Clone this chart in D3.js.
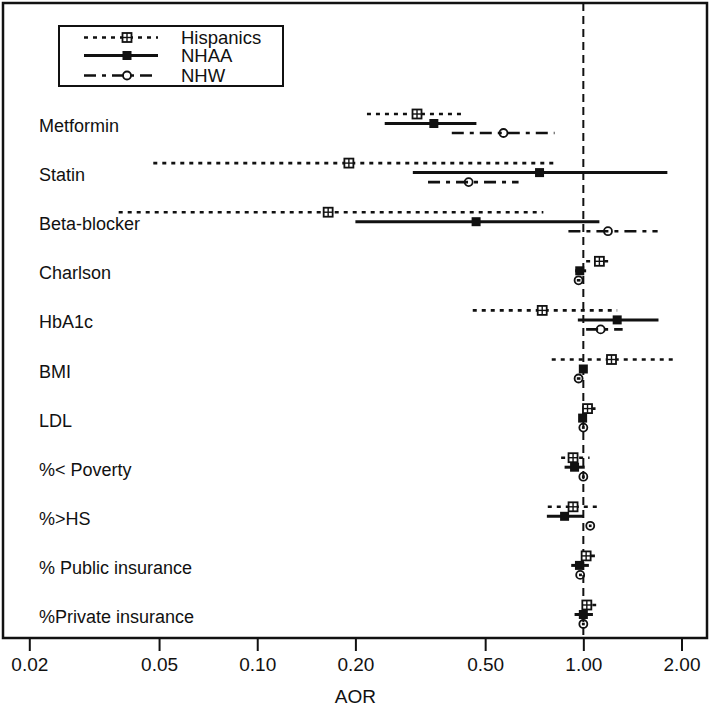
<!DOCTYPE html>
<html>
<head>
<meta charset="utf-8">
<script src="https://cdn.jsdelivr.net/npm/d3@7"></script>
<style>
  html, body { margin: 0; padding: 0; background: #fff; }
  svg { display: block; font-family: "Liberation Sans", Arial, sans-serif; }
</style>
</head>
<body>
<svg id="chart" width="709" height="706"></svg>
<script>
const categories = ["Metformin", "Statin", "Beta-blocker", "Charlson", "HbA1c", "BMI", "LDL",
  "%< Poverty", "%>HS", "% Public insurance", "%Private insurance"];

const hispOR = [0.309, 0.191, 0.165, 1.12, 0.748, 1.22, 1.03, 0.93, 0.93, 1.02, 1.025];
const hispLo = [0.217, 0.048, 0.0376, 1.02, 0.458, 0.80, 1.00, 0.855, 0.778, 0.99, 1.00];
const hispHi = [0.432, 0.816, 0.754, 1.23, 1.27, 1.89, 1.09, 1.045, 1.115, 1.09, 1.095];

const nhaaOR = [0.348, 0.734, 0.469, 0.975, 1.27, 1.00, 0.995, 0.94, 0.876, 0.973, 1.00];
const nhaaLo = [0.246, 0.300, 0.200, 0.944, 0.962, 0.98, 0.98, 0.876, 0.773, 0.918, 0.94];
const nhaaHi = [0.470, 1.81, 1.12, 1.02, 1.70, 1.02, 1.01, 1.01, 1.00, 1.04, 1.07];

const nhwOR = [0.569, 0.445, 1.19, 0.967, 1.13, 0.967, 1.00, 1.00, 1.05, 0.978, 1.00];
const nhwLo = [0.395, 0.334, 0.90, 0.955, 1.02, 0.955, 0.99, 0.99, 1.04, 0.97, 0.99];
const nhwHi = [0.816, 0.633, 1.69, 0.98, 1.32, 0.98, 1.01, 1.01, 1.06, 0.99, 1.01];

const tickValues = [0.02, 0.05, 0.10, 0.20, 0.50, 1.00, 2.00];
const seriesNames = ["Hispanics", "NHAA", "NHW"];

const svg = d3.select("#chart");
const ink = "#111";

const box = {left: 3, top: 3, right: 707, bottom: 638};
const x = d3.scaleLog().domain([0.02, 2]).range([29.3, 681.5]);
const y = d3.scalePoint().domain(categories).range([123.5, 614.5]);

const series = [
  {name: "Hispanics", or: hispOR, lo: hispLo, hi: hispHi, off: -9.5, dash: "4,5", width: 2.6, marker: "hisp"},
  {name: "NHAA", or: nhaaOR, lo: nhaaLo, hi: nhaaHi, off: 0, dash: null, width: 3, marker: "nhaa"},
  {name: "NHW", or: nhwOR, lo: nhwLo, hi: nhwHi, off: 9.5, dash: "12,6,4,6", width: 2.6, marker: "nhw"}
];

function drawMarker(g, type, cx, cy) {
  if (type === "hisp") {
    const s = 9;
    g.append("rect").attr("x", cx - s/2).attr("y", cy - s/2).attr("width", s).attr("height", s)
      .attr("fill", "#fff").attr("stroke", ink).attr("stroke-width", 1.8);
    g.append("line").attr("x1", cx).attr("x2", cx).attr("y1", cy - s/2).attr("y2", cy + s/2)
      .attr("stroke", ink).attr("stroke-width", 1.4);
    g.append("line").attr("x1", cx - s/2).attr("x2", cx + s/2).attr("y1", cy).attr("y2", cy)
      .attr("stroke", ink).attr("stroke-width", 1.4);
  } else if (type === "nhaa") {
    const s = 9;
    g.append("rect").attr("x", cx - s/2).attr("y", cy - s/2).attr("width", s).attr("height", s)
      .attr("fill", ink);
  } else {
    g.append("circle").attr("cx", cx).attr("cy", cy).attr("r", 4)
      .attr("fill", "none").attr("stroke", ink).attr("stroke-width", 1.8);
  }
}

// Plot box
svg.append("rect").attr("x", box.left).attr("y", box.top)
  .attr("width", box.right - box.left).attr("height", box.bottom - box.top)
  .attr("fill", "none").attr("stroke", ink).attr("stroke-width", 2.5);

// Reference line at 1
svg.append("line").attr("x1", x(1)).attr("x2", x(1))
  .attr("y1", box.top).attr("y2", box.bottom)
  .attr("stroke", ink).attr("stroke-width", 2).attr("stroke-dasharray", "8,5");

// Row labels
svg.append("g").selectAll("text").data(categories).join("text")
  .attr("x", 39).attr("y", d => y(d) + 8.5)
  .attr("font-size", 18).attr("fill", ink).text(d => d);

// Series
series.forEach(s => {
  const g = svg.append("g");
  categories.forEach((c, i) => {
    const cy = y(c) + s.off;
    const ln = g.append("line").attr("x1", x(s.lo[i])).attr("x2", x(s.hi[i]))
      .attr("y1", cy).attr("y2", cy).attr("stroke", ink).attr("stroke-width", s.width);
    if (s.dash) ln.attr("stroke-dasharray", s.dash);
  });
  categories.forEach((c, i) => {
    drawMarker(g, s.marker, x(s.or[i]), y(c) + s.off);
  });
});

// X axis
const axis = d3.axisBottom(x).tickValues(tickValues).tickFormat(d3.format(".2f"))
  .tickSize(13).tickSizeOuter(0).tickPadding(7);
const ax = svg.append("g").attr("transform", `translate(0,${box.bottom})`).call(axis);
ax.select(".domain").remove();
ax.selectAll(".tick line").attr("stroke", ink).attr("stroke-width", 2);
ax.selectAll(".tick text").attr("font-size", 19).attr("fill", ink)
  .attr("font-family", "'Liberation Sans', Arial, sans-serif");

svg.append("text").attr("x", x(Math.sqrt(0.02 * 2))).attr("y", 703)
  .attr("text-anchor", "middle").attr("font-size", 19).attr("fill", ink).text("AOR");

// Legend
const lg = svg.append("g");
lg.append("rect").attr("x", 59).attr("y", 26).attr("width", 224).attr("height", 60)
  .attr("fill", "#fff").attr("stroke", ink).attr("stroke-width", 2);
const legY = [37.5, 55.5, 75.5];
series.forEach((s, i) => {
  const ln = lg.append("line").attr("x1", 84).attr("x2", 158)
    .attr("y1", legY[i]).attr("y2", legY[i]).attr("stroke", ink).attr("stroke-width", s.width);
  if (s.dash) ln.attr("stroke-dasharray", s.dash);
  drawMarker(lg, s.marker, 127, legY[i]);
  lg.append("text").attr("x", 181).attr("y", legY[i] + 6.5)
    .attr("font-size", 18.5).attr("fill", ink).text(seriesNames[i]);
});
</script>
</body>
</html>
